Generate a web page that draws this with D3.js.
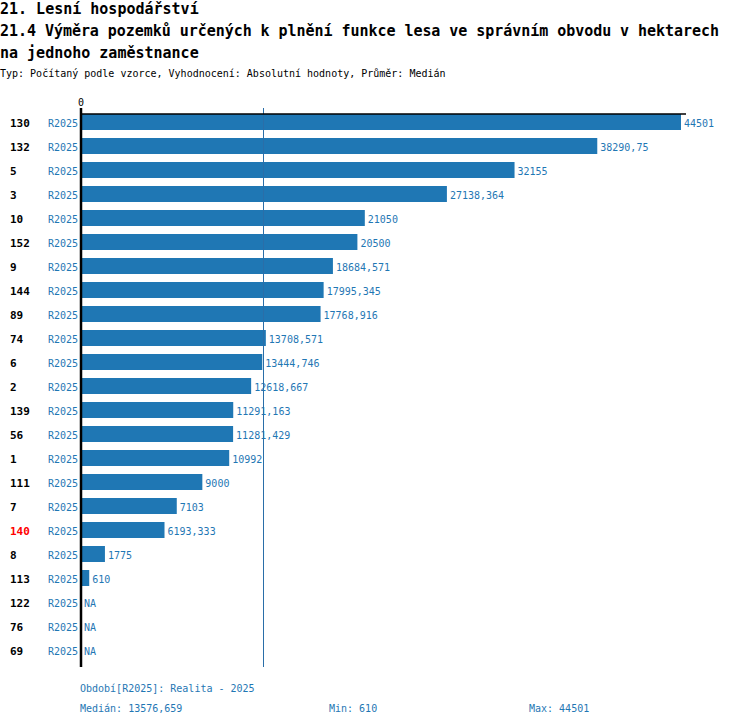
<!DOCTYPE html>
<html>
<head>
<meta charset="utf-8">
<script src="https://cdn.jsdelivr.net/npm/d3@7"></script>
<style>
  body { margin: 0; background: #fff; }
  svg { display: block; font-family: "DejaVu Sans Mono", "Liberation Mono", monospace; }
</style>
</head>
<body>
<svg id="chart" width="750" height="726"></svg>
<script>
const TITLE = '21. Lesní hospodářství';
const SUBTITLE = ['21.4 Výměra pozemků určených k plnění funkce lesa ve správním obvodu v hektarech',
                  'na jednoho zaměstnance'];
const INFO = 'Typ: Počítaný podle vzorce, Vyhodnocení: Absolutní hodnoty, Průměr: Medián';

const units  = ['130', '132', '5', '3', '10', '152', '9', '144', '89', '74', '6', '2',
                '139', '56', '1', '111', '7', '140', '8', '113', '122', '76', '69'];
const labels = ['44501', '38290,75', '32155', '27138,364', '21050', '20500', '18684,571',
                '17995,345', '17768,916', '13708,571', '13444,746', '12618,667', '11291,163',
                '11281,429', '10992', '9000', '7103', '6193,333', '1775', '610', 'NA', 'NA', 'NA'];
const values = labels.map(s => s === 'NA' ? null : +s.replace(',', '.'));
const period = 'R2025';
const highlighted = '140';

const median = 13576.659;
const footer = {
    period: 'Období[R2025]: Realita - 2025',
    median: 'Medián: 13576,659',
    min: 'Min: 610',
    max: 'Max: 44501'
};

const BLUE = '#1f77b4';
const svg = d3.select('#chart');

// header
svg.append('text').attr('x', 0).attr('y', 14)
    .attr('font-size', '15px').attr('font-weight', 'bold').text(TITLE);
SUBTITLE.forEach((t, i) => {
    svg.append('text').attr('x', 0).attr('y', 36 + i * 22)
        .attr('font-size', '15px').attr('font-weight', 'bold')
        .attr('textLength', i === 0 ? 719 : null)
        .text(t);
});
svg.append('text').attr('x', 0).attr('y', 77)
    .attr('font-size', '10px').text(INFO);

const x = d3.scaleLinear()
    .domain([0, d3.max(values)])
    .range([81, 681]);

const y = d3.scaleBand()
    .domain(units)
    .range([110, 662])
    .paddingInner(1 / 3)
    .paddingOuter(1 / 6);

const rows = svg.append('g');
const mid = d => y(d) + y.bandwidth() / 2 + 5;

rows.selectAll('text.unit').data(units).join('text')
    .attr('class', 'unit')
    .attr('x', 10)
    .attr('y', mid)
    .attr('font-size', '11px').attr('font-weight', 'bold')
    .attr('fill', d => d === highlighted ? '#ff0000' : '#000')
    .text(d => d);

rows.selectAll('text.period').data(units).join('text')
    .attr('class', 'period')
    .attr('x', 78)
    .attr('y', mid)
    .attr('text-anchor', 'end')
    .attr('font-size', '10px')
    .attr('fill', BLUE)
    .text(period);

rows.selectAll('rect').data(units).join('rect')
    .attr('x', x(0))
    .attr('y', d => y(d))
    .attr('height', y.bandwidth())
    .attr('width', (d, i) => values[i] == null ? 0 : x(values[i]) - x(0))
    .attr('fill', BLUE);

rows.selectAll('text.val').data(units).join('text')
    .attr('class', 'val')
    .attr('x', (d, i) => (values[i] == null ? x(0) : x(values[i])) + 3)
    .attr('y', mid)
    .attr('font-size', '10px')
    .attr('fill', BLUE)
    .text((d, i) => labels[i]);

// median marker
const mx = Math.round(x(median)) - 0.5;
svg.append('line')
    .attr('x1', mx).attr('x2', mx)
    .attr('y1', 108).attr('y2', 667)
    .attr('stroke', '#2a6ea8').attr('stroke-width', 1);

// axes: top line and zero line
svg.append('line')
    .attr('x1', x(0) - 1).attr('x2', x.range()[1] + 5)
    .attr('y1', 114).attr('y2', 114)
    .attr('stroke', '#000').attr('stroke-width', 1.5);
svg.append('line')
    .attr('x1', x(0)).attr('x2', x(0))
    .attr('y1', 108).attr('y2', 667)
    .attr('stroke', '#000').attr('stroke-width', 2.5);
svg.append('text')
    .attr('x', x(0)).attr('y', 106)
    .attr('text-anchor', 'middle')
    .attr('font-size', '10px')
    .text(x.ticks(1)[0]);

// footer
const foot = svg.append('g').attr('font-size', '10px').attr('fill', BLUE);
foot.append('text').attr('x', 80).attr('y', 692).text(footer.period);
foot.append('text').attr('x', 80).attr('y', 712).text(footer.median);
foot.append('text').attr('x', 329).attr('y', 712).text(footer.min);
foot.append('text').attr('x', 529).attr('y', 712).text(footer.max);
</script>
</body>
</html>
